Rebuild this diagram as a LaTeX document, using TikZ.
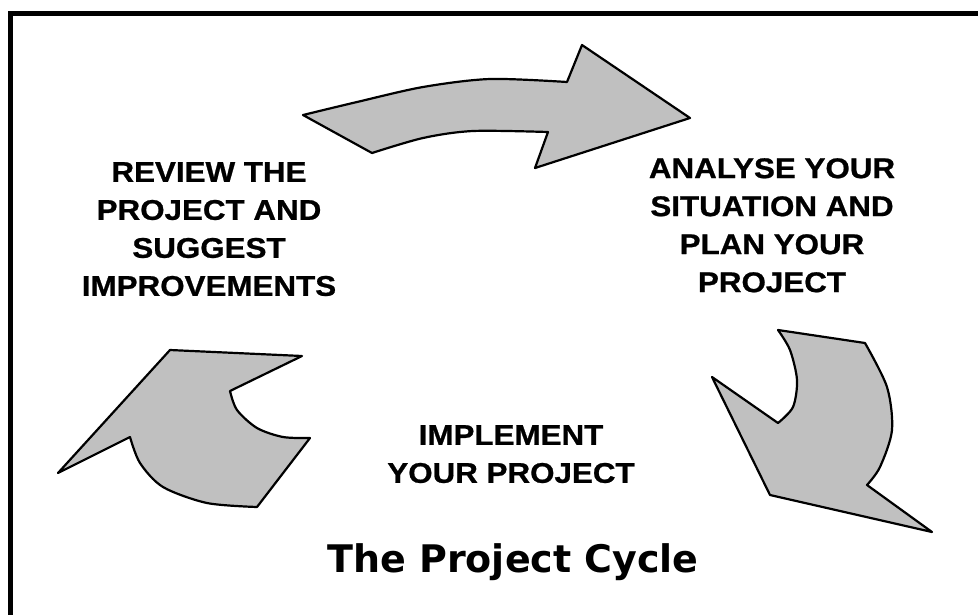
\documentclass[tikz,border=0pt]{standalone}
\usepackage{fontspec}
\setmainfont{Liberation Sans}
\newfontfamily\stepfont[FakeStretch=1.1,FakeBold=0.8]{Liberation Sans}
\newfontfamily\titlefont{DejaVu Sans}
\definecolor{arrowgray}{HTML}{C0C0C0}
\tikzset{
  cyclearrow/.style={draw=black, line width=2.2pt, fill=arrowgray, line join=round},
  steptext/.style={align=center, anchor=north, font=\stepfont\fontsize{28.5}{38}\selectfont\bfseries, inner sep=0pt},
  frameline/.style={line width=5pt, line cap=rect}
}
\begin{document}
\begin{tikzpicture}[x=1pt,y=-1pt]
\useasboundingbox (0,0) rectangle (978,614);
\fill[white] (0,0) rectangle (978,614);
% frame (only top and left edges visible)
\draw[frameline] (10.5,620) -- (10.5,13) -- (985,13);
% top arrow
\draw[cyclearrow] (303,115) -- (372,153)
  -- plot[smooth] coordinates {(372,153) (423,138) (473,131) (548,132)}
  -- (535,168) -- (690,118) -- (582,45) -- (567,82)
  -- plot[smooth] coordinates {(567,82) (490,79) (423,87) (357,102) (303,115)} -- cycle;
% right arrow
\draw[cyclearrow] (778,330) -- (865,343)
  -- plot[smooth] coordinates {(865,343) (887,387) (892,430) (880,467) (867,485)}
  -- (932,532) -- (770,495) -- (712,377) -- (778,423)
  -- plot[smooth] coordinates {(778,423) (793,407) (797,380) (790,350) (778,330)} -- cycle;
% left arrow
\draw[cyclearrow] (58,473) -- (170,350) -- (302,356) -- (230,391)
  -- plot[smooth] coordinates {(230,391) (237,410) (257,428) (283,437) (310,438)}
  -- (257,507)
  -- plot[smooth] coordinates {(257,507) (207,503) (163,487) (140,463) (130,437)}
  -- cycle;
% texts
\node[steptext] (review) at (209,162) {REVIEW THE\\PROJECT AND\\SUGGEST\\IMPROVEMENTS};
\node[steptext] (analyse) at (772,158) {ANALYSE YOUR\\SITUATION AND\\PLAN YOUR\\PROJECT};
\node[steptext] (implement) at (511,425) {IMPLEMENT\\YOUR PROJECT};
\node[font=\titlefont\fontsize{38}{44}\selectfont\bfseries, inner sep=0pt] (title) at (513,562) {The Project Cycle};
\end{tikzpicture}
\end{document}
